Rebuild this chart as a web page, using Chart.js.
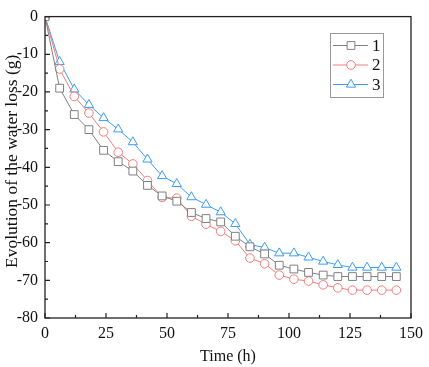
<!DOCTYPE html>
<html>
<head>
<meta charset="utf-8">
<script src="https://cdn.jsdelivr.net/npm/chart.js@4.4.1/dist/chart.umd.min.js"></script>
<style>
  html, body { margin: 0; padding: 0; background: #fff; }
  canvas { display: block; }
</style>
</head>
<body>
<canvas id="lossChart" width="429" height="367"></canvas>
<script>
// time in hours, one reading every 6 h
const hours = [0, 6, 12, 18, 24, 30, 36, 42, 48, 54, 60, 66, 72, 78, 84, 90, 96, 102, 108, 114, 120, 126, 132, 138, 144];
const loss1 = [0, -19, -26, -30, -35.5, -38.5, -41, -44.8, -47.6, -49, -52, -53.6, -54.5, -58.3, -61.1, -63, -66, -67, -67.9, -68.6, -69, -69, -69, -69, -69];
const loss2 = [0, -13.9, -21.2, -25.6, -30.6, -36, -39.1, -43.5, -48, -48.2, -53, -55.1, -57, -59.5, -64.1, -65.6, -68.6, -69.7, -70.2, -71.2, -72, -72.6, -72.6, -72.6, -72.6];
const loss3 = [0, -12, -19.3, -23.4, -26.9, -29.9, -33.3, -37.9, -42.3, -44.4, -47.9, -49.9, -51.9, -55, -60.5, -61.3, -62.8, -62.8, -63.9, -65, -65.9, -66.6, -66.6, -66.6, -66.6];
const seriesNames = ['1', '2', '3'];
const xTicks = [0, 25, 50, 75, 100, 125, 150];
const yTicks = [0, -10, -20, -30, -40, -50, -60, -70, -80];
const yTitle = 'Evolution of the water loss (g)';

const FONT = "'Liberation Serif', 'Times New Roman', serif";
const pts = arr => arr.map((v, i) => ({ x: hours[i], y: v }));

// frame, inward ticks, y title and the boxed legend
const framePlugin = {
  id: 'frame',
  afterDraw(chart) {
    const { ctx, chartArea: a, scales: { x, y } } = chart;
    ctx.save();
    ctx.strokeStyle = '#222';
    ctx.lineWidth = 1.3;
    ctx.strokeRect(a.left, a.top, a.right - a.left, a.bottom - a.top);
    ctx.lineWidth = 1.2;
    ctx.beginPath();
    for (let v = 0; v <= 150; v += 12.5) {
      const px = x.getPixelForValue(v);
      const len = v % 25 === 0 ? 5 : 3;
      ctx.moveTo(px, a.bottom); ctx.lineTo(px, a.bottom - len);
    }
    for (let v = 0; v >= -80; v -= 5) {
      const py = y.getPixelForValue(v);
      const len = v % 10 === 0 ? 5 : 3;
      ctx.moveTo(a.left, py); ctx.lineTo(a.left + len, py);
    }
    ctx.stroke();

    // y title, a little above the axis centre as in the original
    ctx.save();
    ctx.translate(12, (a.top + a.bottom) / 2 - 6);
    ctx.rotate(-Math.PI / 2);
    ctx.fillStyle = '#111';
    ctx.font = '17.5px ' + FONT;
    ctx.textAlign = 'center';
    ctx.textBaseline = 'middle';
    ctx.fillText(yTitle, 0, 0);
    ctx.restore();

    // legend
    const lx = 330, ly = 33, lw = 53, lh = 64;
    ctx.fillStyle = '#fff';
    ctx.fillRect(lx, ly, lw, lh);
    ctx.strokeStyle = '#999';
    ctx.lineWidth = 1;
    ctx.strokeRect(lx + 0.5, ly + 0.5, lw, lh);
    chart.data.datasets.forEach((ds, i) => {
      const cy = 45.5 + i * 19.5;
      ctx.strokeStyle = ds.borderColor;
      ctx.lineWidth = 1;
      ctx.beginPath();
      ctx.moveTo(333, cy); ctx.lineTo(368, cy);
      ctx.stroke();
      ctx.fillStyle = '#fff';
      Chart.helpers.drawPoint(ctx, {
        pointStyle: ds.pointStyle, radius: ds.pointRadius, borderWidth: 1
      }, 351, cy);
      ctx.fillStyle = '#111';
      ctx.font = '17px ' + FONT;
      ctx.textBaseline = 'middle';
      ctx.textAlign = 'left';
      ctx.fillText(ds.label, 372, cy + 1);
    });
    ctx.restore();
  }
};

const mk = (label, data, color, style, r) => ({
  label, data: pts(data),
  borderColor: color, backgroundColor: '#fff',
  borderWidth: 1, pointStyle: style, pointRadius: r, pointHoverRadius: r,
  pointBorderWidth: 1, pointBackgroundColor: '#fff', pointBorderColor: color,
  tension: 0
});

new Chart(document.getElementById('lossChart').getContext('2d'), {
  type: 'line',
  data: {
    datasets: [
      mk(seriesNames[0], loss1, '#808080', 'rect', 5.5),
      mk(seriesNames[1], loss2, '#f27c7c', 'circle', 4.3),
      mk(seriesNames[2], loss3, '#3d9cf2', 'triangle', 5.3)
    ]
  },
  options: {
    responsive: false,
    animation: false,
    layout: { padding: { top: 6, right: 11, left: 0, bottom: 0 }, autoPadding: false },
    plugins: { legend: { display: false }, tooltip: { enabled: false } },
    scales: {
      x: {
        type: 'linear', min: 0, max: 150,
        afterBuildTicks: s => { s.ticks = xTicks.map(v => ({ value: v })); },
        afterFit: s => { s.height = 49; },
        grid: { display: false, drawTicks: false },
        border: { display: false },
        ticks: { color: '#111', font: { family: FONT, size: 16 }, padding: 6, maxRotation: 0 },
        title: { display: true, text: 'Time (h)', color: '#111', font: { family: FONT, size: 16 }, padding: { top: 0, bottom: 1 } }
      },
      y: {
        min: -80, max: 0,
        afterBuildTicks: s => { s.ticks = yTicks.map(v => ({ value: v })); },
        afterFit: s => { s.width = 45; },
        grid: { display: false, drawTicks: false },
        border: { display: false },
        ticks: { color: '#111', font: { family: FONT, size: 16 }, padding: 7 }
      }
    }
  },
  plugins: [framePlugin]
});
</script>
</body>
</html>
